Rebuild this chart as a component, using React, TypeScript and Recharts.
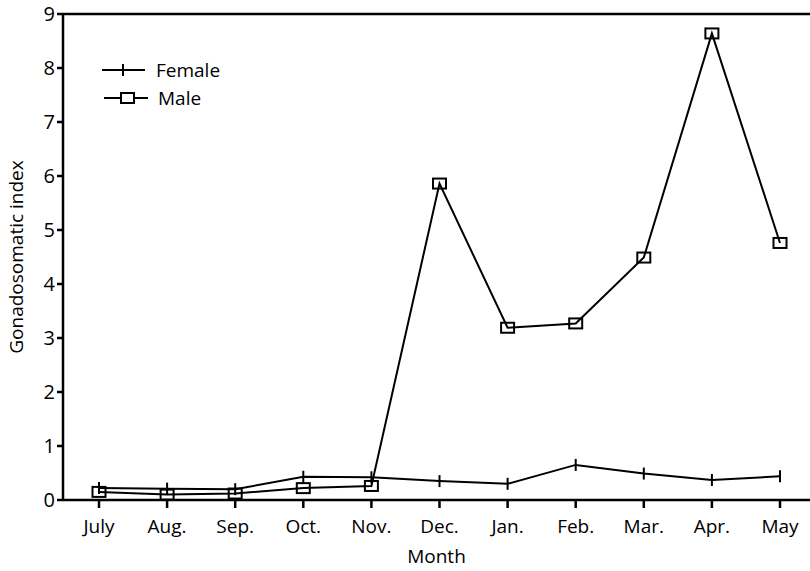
import React from 'react';
import { LineChart, Line, XAxis, YAxis, ReferenceLine } from 'recharts';

// Month categories along the x axis
const months = ['July', 'Aug.', 'Sep.', 'Oct.', 'Nov.', 'Dec.', 'Jan.', 'Feb.', 'Mar.', 'Apr.', 'May'];

// Gonadosomatic index values
const femaleGsi = [0.22, 0.21, 0.2, 0.43, 0.42, 0.35, 0.3, 0.65, 0.49, 0.37, 0.44];
const maleGsi = [0.15, 0.1, 0.12, 0.22, 0.26, 5.86, 3.19, 3.27, 4.49, 8.64, 4.76];

const yTicks = [0, 1, 2, 3, 4, 5, 6, 7, 8, 9];

const data = months.map((m, i) => ({ month: m, female: femaleGsi[i], male: maleGsi[i] }));

const FONT = '"Open Sans", sans-serif';

// vertical tick marker for the female series
const CrossDot = (props: any) => {
  const { cx, cy } = props;
  if (cx == null || cy == null) return null;
  return <line x1={cx} y1={cy - 6} x2={cx} y2={cy + 6} stroke="#000" strokeWidth={2} />;
};

// open square marker for the male series
const SquareDot = (props: any) => {
  const { cx, cy } = props;
  if (cx == null || cy == null) return null;
  return <rect x={cx - 6.5} y={cy - 5} width={13} height={10} fill="none" stroke="#000" strokeWidth={2} />;
};

// legend drawn as an overlay so it does not shrink the plot area
const LegendBox = () => (
  <svg width={170} height={50} style={{ position: 'absolute', left: 100, top: 58, overflow: 'visible' }}>
    <line x1={2} y1={12} x2={45} y2={12} stroke="#000" strokeWidth={2} />
    <line x1={23} y1={6} x2={23} y2={18} stroke="#000" strokeWidth={2} />
    <text x={56} y={12} dominantBaseline="central" fontFamily={FONT} fontSize={19} fill="#000">Female</text>
    <line x1={4} y1={40} x2={48} y2={40} stroke="#000" strokeWidth={2} />
    <rect x={21} y={35} width={13} height={10} fill="#fff" stroke="#000" strokeWidth={2} />
    <text x={58} y={40} dominantBaseline="central" fontFamily={FONT} fontSize={19} fill="#000">Male</text>
  </svg>
);

export default function App() {
  return (
    <div style={{ position: 'absolute', left: 0, top: 0, width: 810, height: 571, background: '#fff' }}>
      <LineChart width={810} height={571} data={data} margin={{ top: 14, right: 0, bottom: 0, left: 0 }}>
        <XAxis
          dataKey="month"
          padding={{ left: 36, right: 30 }}
          height={71}
          stroke="#000"
          strokeWidth={2.5}
          tickSize={8}
          tickMargin={12}
          tick={{ fill: '#000', fontSize: 19, fontFamily: FONT }}
          label={{ value: 'Month', position: 'insideBottom', offset: 8, fill: '#000', fontSize: 19, fontFamily: FONT }}
        />
        <YAxis
          domain={[0, 9]}
          ticks={yTicks}
          width={63}
          stroke="#000"
          strokeWidth={2.5}
          tickSize={6}
          tick={{ fill: '#000', fontSize: 20, fontFamily: FONT }}
          label={{ value: 'Gonadosomatic  index', angle: -90, position: 'insideLeft', offset: 16, fill: '#000', fontSize: 19, fontFamily: FONT, style: { textAnchor: 'middle' } }}
        />
        <ReferenceLine y={9} stroke="#000" strokeWidth={2.5} />
        <Line dataKey="female" stroke="#000" strokeWidth={2} dot={<CrossDot />} isAnimationActive={false} />
        <Line dataKey="male" stroke="#000" strokeWidth={2} dot={<SquareDot />} isAnimationActive={false} />
      </LineChart>
      <LegendBox />
    </div>
  );
}
